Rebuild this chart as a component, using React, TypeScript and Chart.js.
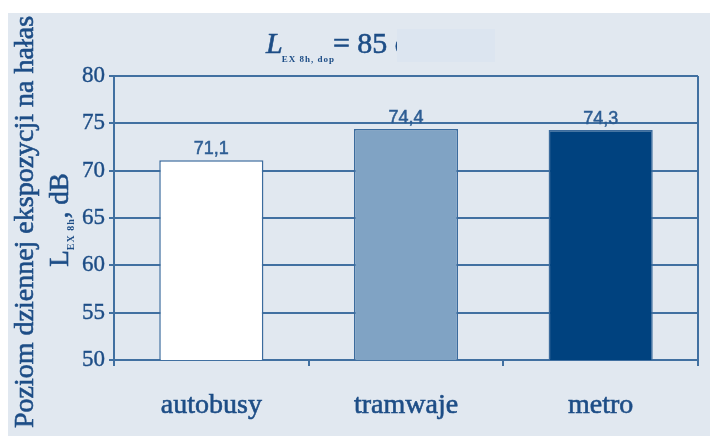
import React, { useEffect, useRef } from "react";
import { Chart, registerables } from "chart.js";

Chart.register(...registerables);

// Daily noise exposure level by means of transport
const categories = ["autobusy", "tramwaje", "metro"];
const values = [71.1, 74.4, 74.3];
const valueLabels = ["71,1", "74,4", "74,3"];
const barFills = ["#ffffff", "#80a3c4", "#00427f"];
const yMin = 50;
const yMax = 80;
const yStep = 5;

const TEXT = "#1d4d86";
const LINE = "#4170a1";
const SERIF = '"Liberation Serif", "Times New Roman", serif';
const SANS = '"Liberation Sans", Arial, sans-serif';

// fill text with a thin outline so the serif strokes look a bit heavier
function heavyText(ctx: CanvasRenderingContext2D, s: string, x: number, y: number, w = 0.6) {
  ctx.fillText(s, x, y);
  ctx.lineWidth = w;
  ctx.strokeStyle = ctx.fillStyle as string;
  ctx.strokeText(s, x, y);
}

// Value labels above each bar
const valueLabelPlugin = {
  id: "valueLabels",
  afterDatasetsDraw(chart: any) {
    const { ctx } = chart;
    const meta = chart.getDatasetMeta(0);
    ctx.save();
    ctx.font = `18px ${SANS}`;
    ctx.fillStyle = "#2d5d93";
    ctx.textAlign = "center";
    ctx.textBaseline = "alphabetic";
    meta.data.forEach((bar: any, i: number) => {
      heavyText(ctx, valueLabels[i], bar.x, bar.y - 6, 0.5);
    });
    ctx.restore();
  },
};

// Heading with the permissible level and the two-line y-axis title with subscripts
const headingPlugin = {
  id: "headings",
  afterDraw(chart: any) {
    const { ctx, chartArea } = chart;
    ctx.save();
    ctx.fillStyle = TEXT;
    ctx.textBaseline = "alphabetic";
    ctx.textAlign = "left";

    // L_EX8h,dop = 85 dB
    let x = 266;
    const base = 53;
    ctx.font = `italic 30px ${SERIF}`;
    heavyText(ctx, "L", x, base);
    x += ctx.measureText("L").width - 1;
    ctx.font = `bold 9px ${SERIF}`;
    (ctx as any).letterSpacing = "1px";
    ctx.fillText("EX 8h, dop", x, base + 9);
    x += ctx.measureText("EX 8h, dop").width;
    (ctx as any).letterSpacing = "0px";
    ctx.font = `30px ${SERIF}`;
    heavyText(ctx, "= 85 dB", x - 2, base);

    // label patch over the unit
    ctx.fillStyle = "#dce5f0";
    ctx.fillRect(397, 29, 98, 33);

    // y-axis title, rotated
    ctx.fillStyle = TEXT;
    const cy = (chartArea.top + chartArea.bottom) / 2;
    ctx.save();
    ctx.translate(33, cy + 4);
    ctx.rotate(-Math.PI / 2);
    ctx.textAlign = "center";
    ctx.font = `28px ${SERIF}`;
    heavyText(ctx, "Poziom dziennej ekspozycji na hałas", 0, 0);
    ctx.restore();

    ctx.save();
    ctx.translate(68, cy + 2);
    ctx.rotate(-Math.PI / 2);
    ctx.textAlign = "left";
    ctx.font = `27px ${SERIF}`;
    const wL = ctx.measureText("L").width;
    const wTail = ctx.measureText(", dB").width;
    ctx.font = `bold 10px ${SERIF}`;
    (ctx as any).letterSpacing = "1px";
    const wSub = ctx.measureText("EX 8h").width;
    const total = wL + wSub + wTail;
    let px = -total / 2;
    ctx.font = `27px ${SERIF}`;
    (ctx as any).letterSpacing = "0px";
    heavyText(ctx, "L", px, 0);
    px += wL;
    ctx.font = `bold 10px ${SERIF}`;
    (ctx as any).letterSpacing = "1px";
    ctx.fillText("EX 8h", px, 6);
    px += wSub;
    (ctx as any).letterSpacing = "0px";
    ctx.font = `27px ${SERIF}`;
    heavyText(ctx, ", dB", px, 0);
    ctx.restore();

    ctx.restore();
  },
};

export default function App() {
  const canvasRef = useRef<HTMLCanvasElement | null>(null);

  useEffect(() => {
    if (!canvasRef.current) return;
    const chart = new Chart(canvasRef.current, {
      type: "bar",
      data: {
        labels: categories,
        datasets: [
          {
            data: values,
            backgroundColor: barFills,
            borderColor: "#3b6b9d",
            borderWidth: 1.5,
            categoryPercentage: 1,
            barPercentage: 0.535,
          },
        ],
      },
      options: {
        responsive: false,
        animation: false,
        layout: { padding: { top: 76, right: 12, left: 0, bottom: 0 } },
        plugins: {
          legend: { display: false },
          tooltip: { enabled: false },
        },
        scales: {
          x: {
            offset: true,
            grid: {
              offset: true,
              drawOnChartArea: true,
              color: (ctx: any) => (ctx.type === "tick" ? "rgba(0,0,0,0)" : LINE),
              tickColor: LINE,
              lineWidth: 2,
              tickWidth: 2,
              tickLength: 6,
            },
            border: { color: LINE, width: 2 },
            ticks: {
              color: TEXT,
              font: { family: SERIF, size: 28 },
              padding: 23,
              textStrokeColor: TEXT,
              textStrokeWidth: 0.6,
            },
            afterFit: (s: any) => {
              s.height = 76;
            },
          },
          y: {
            min: yMin,
            max: yMax,
            ticks: {
              stepSize: yStep,
              color: TEXT,
              font: { family: SERIF, size: 23 },
              padding: 4,
              textStrokeColor: TEXT,
              textStrokeWidth: 0.4,
            },
            grid: {
              color: LINE,
              lineWidth: 2,
              tickLength: 5,
            },
            border: { color: LINE, width: 2 },
            afterFit: (s: any) => {
              s.width = 114;
            },
          },
        },
      },
      plugins: [valueLabelPlugin, headingPlugin],
    });
    return () => chart.destroy();
  }, []);

  return (
    <div
      style={{
        position: "fixed",
        left: 0,
        top: 0,
        width: 710,
        height: 436,
        background: "#ffffff",
        overflow: "hidden",
      }}
    >
      <div
        style={{
          position: "absolute",
          left: 8,
          top: 13,
          width: 702,
          height: 423,
          background: "#e1e8f0",
        }}
      />
      <canvas
        ref={canvasRef}
        width={710}
        height={436}
        style={{ position: "absolute", left: 0, top: 0 }}
      />
    </div>
  );
}
